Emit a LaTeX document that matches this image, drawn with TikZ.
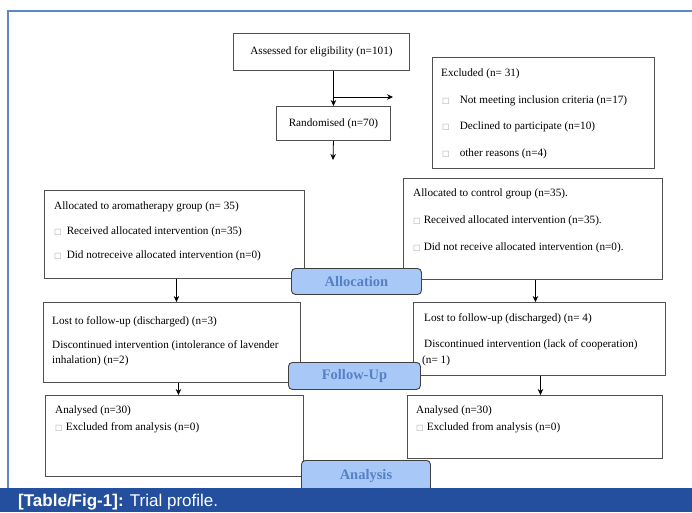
\documentclass[tikz,border=0pt]{standalone}
\usepackage{fontspec}
\setmainfont{Liberation Serif}
\newfontfamily\capfont{Liberation Sans}
\newfontfamily\symfont{DejaVu Sans}
\usetikzlibrary{arrows.meta}
\definecolor{framebl}{RGB}{95,135,200}
\definecolor{capbar}{RGB}{36,79,158}
\definecolor{tabfill}{RGB}{168,200,248}
\definecolor{tabtext}{RGB}{86,128,196}
\definecolor{boxline}{RGB}{80,80,80}
\newcommand\sqb{{\symfont\fontsize{8}{9}\selectfont\color{black!35}□}}
\newcommand\itm[1][6pt]{\sqb\hspace{#1}}
\begin{document}
\begin{tikzpicture}[x=1pt,y=-1pt,
  box/.style={draw=boxline,line width=0.9pt,anchor=north west,inner sep=0pt,font=\fontsize{11.2}{13}\selectfont},
  txt/.style={anchor=base west,inner sep=0pt,font=\fontsize{11.2}{13}\selectfont},
  tab/.style={draw=black!75,line width=0.9pt,fill=tabfill,rounded corners=4pt,anchor=north west,inner sep=0pt,text=tabtext,font=\fontsize{14.5}{16}\selectfont\bfseries},
  arr/.style={-{Stealth[length=6pt,width=5.5pt]},line width=0.8pt,black}]
\useasboundingbox (0,0) rectangle (692,512);
\fill[white] (0,0) rectangle (692,512);
% frame
\draw[framebl,line width=1.2pt] (8,492) -- (8,11) -- (692,11);
% top boxes
\node[box,minimum width=176pt,minimum height=37pt] (assess) at (233,33) {Assessed for eligibility (n=101)};
\node[box,minimum width=114pt,minimum height=34pt] (rnd) at (276,106) {Randomised (n=70)};
\node[box,minimum width=222pt,minimum height=111pt] (excl) at (432,57) {};
\node[txt] (ex0) at (441,76) {Excluded (n= 31)};
\node[txt] (ex1) at (442,103) {\itm[10pt]Not meeting inclusion criteria (n=17)};
\node[txt] (ex2) at (442,129) {\itm[10pt]Declined to participate (n=10)};
\node[txt] (ex3) at (442,156) {\itm[10pt]other reasons (n=4)};
\coordinate (exend) at (393,97);
\coordinate (rndend) at (333,160);
\draw[arr] (assess.south -| rnd.north) -- (rnd.north);
\draw[arr] (rnd.north |- exend) -- (exend);
\draw[arr] (rnd.south) -- (rndend);
% allocation boxes
\node[box,minimum width=260pt,minimum height=88pt] (aroma) at (44,190) {};
\node[txt] (ar0) at (54,209) {Allocated to aromatherapy group (n= 35)};
\node[txt] (ar1) at (54,234) {\itm[5pt]Received allocated intervention (n=35)};
\node[txt] (ar2) at (54,258) {\itm[5pt]Did notreceive allocated intervention (n=0)};
\node[box,minimum width=259pt,minimum height=101pt] (ctrl) at (403,178) {};
\node[txt] (ct0) at (413,196) {Allocated to control group (n=35).};
\node[txt] (ct1) at (413,223) {\itm[3pt]Received allocated intervention (n=35).};
\node[txt] (ct2) at (413,250) {\itm[3pt]Did not receive allocated intervention (n=0).};
% follow-up boxes
\node[box,minimum width=257pt,minimum height=80pt] (lostL) at (43,302) {};
\node[txt] (ll0) at (52,324) {Lost to follow-up (discharged) (n=3)};
\node[txt] (ll1) at (52,348) {Discontinued intervention (intolerance of lavender};
\node[txt] (ll2) at (52,363) {inhalation) (n=2)};
\node[box,minimum width=252pt,minimum height=73pt] (lostR) at (413,302) {};
\node[txt] (lr0) at (424,321) {Lost to follow-up (discharged) (n= 4)};
\node[txt] (lr1) at (424,347) {Discontinued intervention (lack of cooperation)};
\node[txt] (lr2) at (422,363) {(n= 1)};
% analysis boxes
\node[box,minimum width=258pt,minimum height=81pt] (anaL) at (45,395) {};
\node[txt] (al0) at (55,413) {Analysed (n=30)};
\node[txt] (al1) at (55,430) {\itm[3pt]Excluded from analysis (n=0)};
\node[box,minimum width=255pt,minimum height=63pt] (anaR) at (407,395) {};
\node[txt] (ar0b) at (416,413) {Analysed (n=30)};
\node[txt] (ar1b) at (416,430) {\itm[3pt]Excluded from analysis (n=0)};
% arrows
\draw[arr] ([xshift=2pt]aroma.south) -- ([xshift=2pt]aroma.south |- lostL.north);
\draw[arr] ([xshift=6.5pt]lostL.south) -- ([xshift=6.5pt]lostL.south |- anaL.north);
\draw[arr] ([xshift=2.5pt]ctrl.south) -- ([xshift=2.5pt]ctrl.south |- lostR.north);
\draw[arr] ([xshift=1pt]lostR.south) -- ([xshift=1pt]lostR.south |- anaR.north);
% tabs
\node[tab,minimum width=130pt,minimum height=26pt] (tAlloc) at (291,268) {Allocation};
\node[tab,minimum width=132pt,minimum height=27pt] (tFollow) at (288,362) {Follow-Up};
\node[tab,minimum width=129pt,minimum height=31pt] (tAna) at (301,460) {Analysis};
% caption bar
\fill[capbar] (0,488) rectangle (692,512);
\node[anchor=base west,inner sep=0pt,text=white,font=\capfont\fontsize{17}{19}\selectfont] (cap) at (18,506.5) {\textbf{[Table/Fig-1]:} Trial profile.};
\end{tikzpicture}
\end{document}
